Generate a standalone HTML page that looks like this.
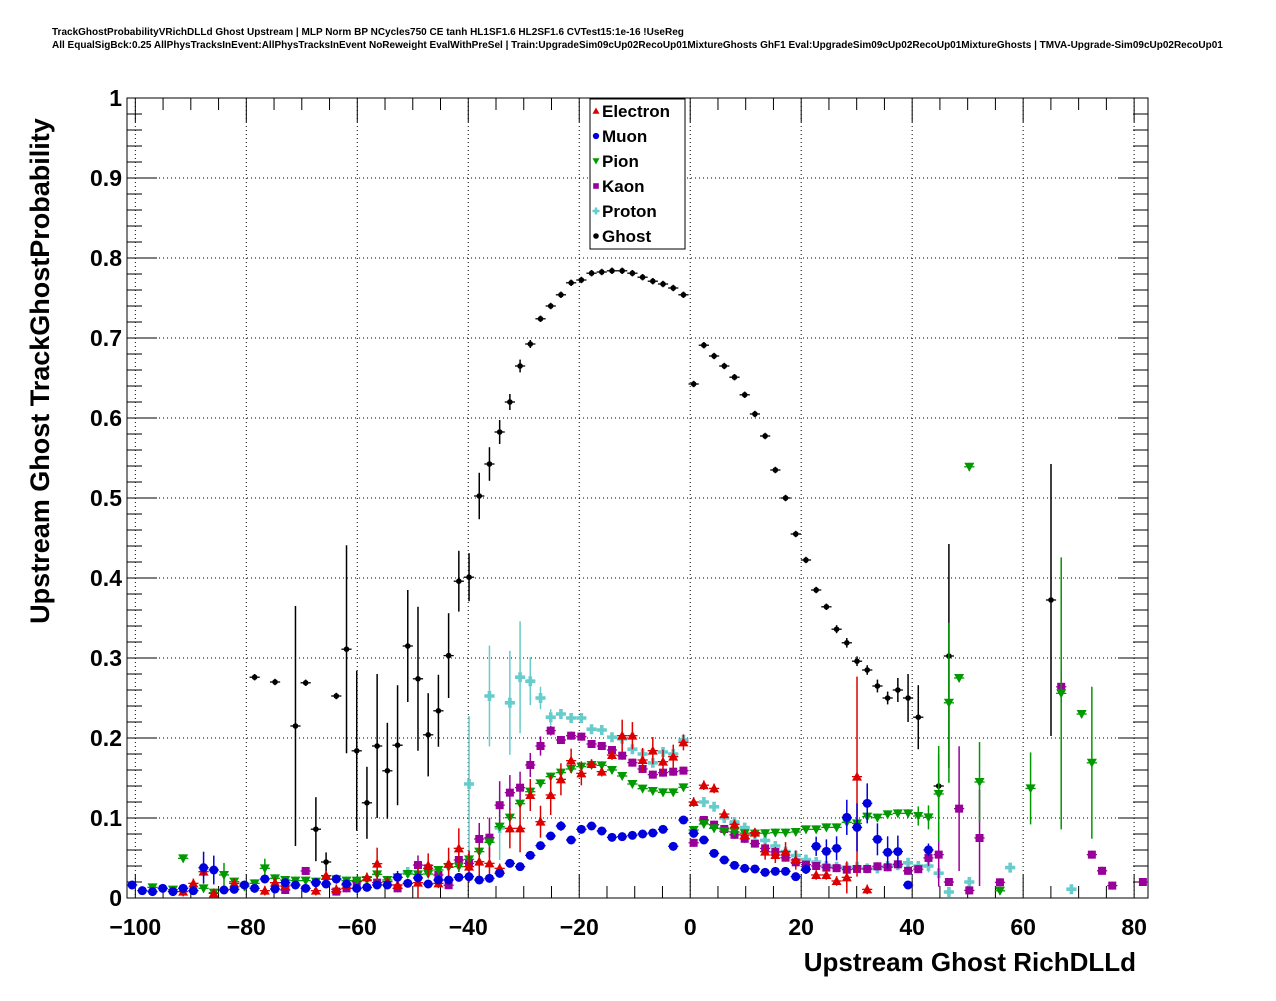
<!DOCTYPE html>
<html><head><meta charset="utf-8">
<style>
body{margin:0;background:#fff;}
svg text{font-family:"Liberation Sans",Arial,sans-serif;font-weight:bold;}
</style></head>
<body>
<svg id="chart" width="1276" height="996" viewBox="0 0 1276 996" xmlns="http://www.w3.org/2000/svg">
<rect width="1276" height="996" fill="#fff"/>
<text x="52" y="35" font-size="10">TrackGhostProbabilityVRichDLLd Ghost Upstream | MLP Norm BP NCycles750 CE tanh HL1SF1.6 HL2SF1.6 CVTest15:1e-16 !UseReg</text>
<text x="52" y="48" font-size="10">All EqualSigBck:0.25 AllPhysTracksInEvent:AllPhysTracksInEvent NoReweight EvalWithPreSel | Train:UpgradeSim09cUp02RecoUp01MixtureGhosts GhF1 Eval:UpgradeSim09cUp02RecoUp01MixtureGhosts | TMVA-Upgrade-Sim09cUp02RecoUp01</text>
<g id="grid"></g>
<g id="axes"></g>
<g id="marks"></g>
<text transform="translate(49,371) rotate(-90)" text-anchor="middle" font-size="27">Upstream Ghost TrackGhostProbability</text>
<text x="1136" y="971" text-anchor="end" font-size="26">Upstream Ghost RichDLLd</text>
<g id="legend"></g>
</svg>
<script>
// ---- data (bin index -> value); bins: 100 bins from -101.5 to 82.5 ----
const xTicks = [-100,-80,-60,-40,-20,0,20,40,60,80];
const yTicks = [0,0.1,0.2,0.3,0.4,0.5,0.6,0.7,0.8,0.9,1];
const yTickLabels = ["0","0.1","0.2","0.3","0.4","0.5","0.6","0.7","0.8","0.9","1"];

const ghostBins = [12,14,16,17,18,19,20,21,22,23,24,25,26,27,28,29,30,31,32,33,34,35,36,37,38,39,40,41,42,43,44,45,46,47,48,49,50,51,52,53,54,55,56,57,58,59,60,61,62,63,64,65,66,67,68,69,70,71,72,73,74,75,76,77,79,80,90];
const ghostVals = [.276,.27,.215,.269,.086,.045,.2525,.311,.184,.119,.19,.159,.191,.315,.274,.204,.234,.303,.396,.401,.5025,.5425,.5825,.62,.665,.6925,.724,.74,.754,.769,.7725,.781,.7825,.784,.784,.781,.776,.771,.7675,.7625,.754,.6425,.691,.6775,.665,.651,.629,.605,.5775,.535,.5,.455,.4225,.385,.364,.336,.319,.296,.285,.265,.25,.26,.25,.226,.14,.3025,.3725];
const ghostErrs = {16:.15,18:.04,19:.012,21:.13,22:.1,23:.045,24:.09,25:.06,26:.075,27:.07,28:.09,29:.052,30:.045,31:.053,32:.038,33:.03,34:.029,35:.021,36:.015,37:.01,38:.008,39:.005,69:.005,70:.006,71:.006,72:.006,73:.008,74:.008,75:.015,76:.03,77:.04,79:.04,80:.14,90:.17};

const electronBins = [5,6,7,8,10,13,14,15,18,19,20,21,23,24,25,26,28,29,30,31,32,33,34,35,36,37,38,39,40,41,42,43,44,45,46,47,48,49,50,51,52,53,54,55,56,57,58,59,60,61,62,63,64,65,67,68,69,70,71,72];
const electronVals = [.008,.0183,.0329,.0058,.0183,.0092,.0192,.015,.0092,.028,.0108,.0163,.0258,.0429,.0204,.0163,.0192,.0408,.0183,.0429,.0621,.0392,.0454,.0433,.0371,.0871,.0871,.1288,.0954,.1288,.1483,.1717,.1558,.1675,.1579,.1787,.2029,.2029,.1725,.1842,.1704,.1767,.1946,.12,.141,.137,.1049,.0921,.0788,.0817,.0579,.0538,.0579,.0475,.0288,.0288,.0213,.0258,.1517,.0108];
const electronErrs = {24:.02,28:.02,29:.015,31:.02,32:.025,33:.02,34:.02,35:.02,37:.025,38:.03,39:.02,40:.02,41:.025,42:.02,43:.015,44:.015,48:.02,49:.017,50:.015,51:.017,52:.015,53:.015,54:.01,62:.01,63:.01,64:.012,65:.012,70:.02,71:.125};

const muonBins = [0,1,2,3,4,5,6,7,8,9,10,11,12,13,14,15,16,17,18,19,20,21,22,23,24,25,26,27,28,29,30,31,32,33,34,35,36,37,38,39,40,41,42,43,44,45,46,47,48,49,50,51,52,53,54,55,56,57,58,59,60,61,62,63,64,65,66,67,68,69,70,71,72,73,74,75,76,78];
const muonVals = [.0163,.0092,.008,.0121,.008,.0121,.0092,.0379,.035,.01,.0108,.0163,.0121,.0238,.0113,.0192,.0163,.0121,.0192,.0175,.0238,.0175,.0121,.0133,.0163,.0163,.0258,.0183,.025,.0175,.0225,.0225,.0258,.0267,.0225,.0246,.0308,.0433,.0392,.0533,.0654,.0775,.09,.0725,.0858,.09,.0838,.0758,.0767,.0783,.08,.0813,.0858,.0646,.0975,.0808,.0725,.0558,.0475,.0408,.037,.0363,.0321,.0333,.0333,.0267,.036,.0646,.0583,.0621,.1008,.0883,.1183,.0733,.0571,.058,.0163,.0601];
const muonErrs = {7:.02,8:.018,26:.008,42:.006,66:.006,67:.012,68:.015,69:.015,70:.022,71:.03,72:.025,73:.02,74:.02,75:.02,78:.008};

const pionBins = [2,4,5,7,8,9,10,11,12,13,14,15,16,17,18,19,20,21,22,23,24,25,26,27,28,29,30,31,32,33,34,35,36,37,38,39,40,41,42,43,44,45,46,47,48,49,50,51,52,53,54,55,56,57,58,59,60,61,62,63,64,65,66,67,68,69,70,71,72,73,74,75,76,77,78,79,80,81,82,83,85,88,91,93,94];
const pionVals = [.0133,.0104,.0496,.0121,.0067,.0288,.0204,.0142,.0183,.0371,.0246,.0225,.0217,.0217,.0204,.0233,.0233,.0217,.0217,.0225,.0296,.0225,.0258,.03,.0296,.03,.035,.0383,.0392,.0483,.0579,.0696,.0892,.1004,.1179,.1329,.1433,.1517,.1567,.1613,.1642,.1663,.1658,.16,.1525,.1425,.1367,.1338,.1321,.1321,.1383,.085,.0925,.0871,.0834,.0826,.081,.0804,.081,.0817,.0817,.0825,.0858,.0858,.0883,.0883,.0946,.0933,.1017,.1004,.1046,.1058,.1058,.1025,.1008,.13,.244,.275,.539,.145,.009,.137,.2558,.23,.169];
const pionErrs = {9:.015,13:.012,24:.008,77:.012,78:.015,79:.06,80:.1,83:.05,88:.045,91:.17,94:.095};

const kaonBins = [15,17,20,21,22,24,26,28,29,30,31,32,33,34,35,36,37,38,39,40,41,42,43,44,45,46,47,48,49,50,51,52,53,54,55,56,57,58,59,60,61,62,63,64,65,66,67,68,69,70,71,72,73,74,75,76,77,78,79,80,81,82,83,85,91,94,95,96,99];
const kaonVals = [.01,.0338,.008,.0121,.0204,.0192,.0121,.0412,.0371,.0288,.016,.0475,.0433,.0738,.0754,.116,.1317,.1379,.1663,.19,.2092,.1975,.2029,.2017,.1925,.19,.185,.1779,.1692,.1613,.1542,.1567,.1579,.1592,.069,.0975,.0917,.0863,.079,.074,.068,.062,.0575,.0504,.0446,.0417,.04,.038,.0373,.0354,.0363,.0363,.0396,.0384,.0421,.034,.036,.0501,.0542,.02,.1117,.0095,.075,.0196,.264,.0542,.034,.0155,.02];
const kaonErrs = {28:.012,32:.015,33:.015,34:.02,35:.025,36:.03,37:.022,38:.02,39:.015,40:.012,41:.006,78:.01,79:.04,81:.078,83:.06,91:.02};

const protonBins = [27,33,35,36,37,38,39,40,41,42,43,44,45,46,47,48,49,50,51,52,53,54,56,57,58,59,60,61,62,63,64,65,66,67,68,69,70,71,72,73,74,75,76,77,78,79,80,82,86,92];
const protonVals = [.0325,.1425,.2525,.0875,.244,.276,.271,.25,.226,.23,.225,.225,.211,.21,.201,.199,.186,.18,.169,.1825,.18,.1975,.12,.114,.1,.095,.088,.08,.072,.065,.058,.053,.048,.045,.04,.039,.038,.039,.037,.037,.04,.041,.044,.04,.04,.031,.0075,.02,.038,.011];
const protonErrs = {33:.085,35:.063,36:.04,37:.065,38:.07,39:.03,40:.014,41:.01,42:.006,78:.008,79:.01};

// ---- scales ----
const L=127,R=1148,T=98,B=898, XMIN=-101.5, XMAX=82.5, NB=100;
const BW=(XMAX-XMIN)/NB;
function X(v){return L+(v-XMIN)/(XMAX-XMIN)*(R-L);}
function Y(v){return B-v*(B-T);}
function binX(i){return X(XMIN+BW*(i+0.5));}
const NS="http://www.w3.org/2000/svg";
function mk(tag,attrs,parent){const e=document.createElementNS(NS,tag);for(const k in attrs)e.setAttribute(k,attrs[k]);parent.appendChild(e);return e;}

const grid=document.getElementById('grid'), axes=document.getElementById('axes'), marks=document.getElementById('marks');
xTicks.forEach(t=>{const g=mk('line',{x1:X(t),x2:X(t),y1:T,y2:B,stroke:'#000','stroke-width':1,'stroke-dasharray':'1,3'},grid);

});
yTicks.forEach(t=>{if(t===0||t===1)return;const g=mk('line',{x1:L,x2:R,y1:Y(t),y2:Y(t),stroke:'#000','stroke-width':1,'stroke-dasharray':'1,3'},grid);

});
const fr=mk('rect',{x:L,y:T,width:R-L,height:B-T,fill:'none',stroke:'#000','stroke-width':1},axes);


for(let v=-100;v<=XMAX;v+=5){const maj=(v%20===0);const h=maj?24:12;
mk('line',{x1:X(v),x2:X(v),y1:B,y2:B-h,stroke:'#000'},axes);
mk('line',{x1:X(v),x2:X(v),y1:T,y2:T+h,stroke:'#000'},axes);}
for(let k=0;k<=50;k++){const v=k*0.02;const maj=(k%5===0);const w=maj?30:15;
mk('line',{x1:L,x2:L+w,y1:Y(v),y2:Y(v),stroke:'#000'},axes);
mk('line',{x1:R,x2:R-w,y1:Y(v),y2:Y(v),stroke:'#000'},axes);}
xTicks.forEach(t=>{const tx=mk('text',{x:X(t),y:935,'text-anchor':'middle','font-size':23},axes);tx.textContent=(t<0?'\u2212'+(-t):String(t));

});
yTicks.forEach((t,j)=>{const tx=mk('text',{x:122,y:Y(t)+8,'text-anchor':'end','font-size':23},axes);tx.textContent=yTickLabels[j];

});

function marker(kind,x,y,color,parent){
 if(kind==='tri-up')return mk('polygon',{points:`${x},${y-5} ${x-5},${y+4} ${x+5},${y+4}`,fill:color},parent);
 if(kind==='tri-down')return mk('polygon',{points:`${x},${y+5} ${x-5},${y-4} ${x+5},${y-4}`,fill:color},parent);
 if(kind==='circle')return mk('circle',{cx:x,cy:y,r:4.5,fill:color},parent);
 if(kind==='square')return mk('rect',{x:x-4,y:y-4,width:8,height:8,fill:color},parent);
 if(kind==='cross')return mk('path',{d:`M${x-5},${y-1.8}h3.2v-3.2h3.6v3.2h3.2v3.6h-3.2v3.2h-3.6v-3.2h-3.2z`,fill:color},parent);
 return mk('circle',{cx:x,cy:y,r:2.8,fill:color},parent);
}
function series(name,bins,vals,errs,defErr,color,kind){
 const g=mk('g',{},marks);
 
 
 bins.forEach((b,j)=>{const v=vals[j];const x=binX(b),y=Y(v);const e=(errs[b]!==undefined?errs[b]:defErr);
  const hw=(R-L)/NB/2;
  mk('line',{x1:x-hw,x2:x+hw,y1:y,y2:y,stroke:color,'stroke-width':1.3},g);
  mk('line',{x1:x,x2:x,y1:Math.min(B,Y(Math.max(0,v-e))),y2:Math.max(T,Y(v+e)),stroke:color,'stroke-width':1.5},g);
  const m=marker(kind,x,y,color,g);
  
  
 });
}
series('ghost',ghostBins,ghostVals,ghostErrs,0.004,'#000','dot');
series('proton',protonBins,protonVals,protonErrs,0.005,'#66cccc','cross');
series('kaon',kaonBins,kaonVals,kaonErrs,0.005,'#990099','square');
series('pion',pionBins,pionVals,pionErrs,0.005,'#009900','tri-down');
series('electron',electronBins,electronVals,electronErrs,0.006,'#dd0000','tri-up');
series('muon',muonBins,muonVals,muonErrs,0.004,'#0000dd','circle');

const lg=document.getElementById('legend');
mk('rect',{x:590,y:99,width:95,height:150,fill:'#fff',stroke:'#000','stroke-width':1},lg);
const legNames=['Electron','Muon','Pion','Kaon','Proton','Ghost'];
const legColors=['#dd0000','#0000dd','#009900','#990099','#66cccc','#000'];
const legKinds=['tri-up','circle','tri-down','square','cross','dot'];
legNames.forEach((n,j)=>{const y=111+25*j;
 const e=mk('g',{},lg);
 
 
 const m=marker(legKinds[j],596,y,legColors[j],e);
 if(legKinds[j]!=='dot')m.setAttribute('transform',`translate(596,${y}) scale(0.7) translate(-596,${-y})`);
 const t=mk('text',{x:602,y:y+6,'font-size':17},e);t.textContent=n;});
</script>
</body></html>
